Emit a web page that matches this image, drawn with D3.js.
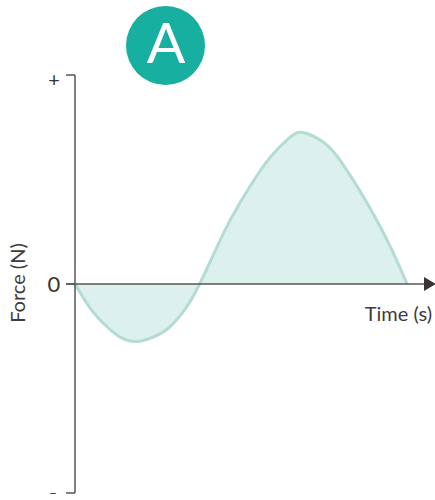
<!DOCTYPE html>
<html><head><meta charset="utf-8">
<script src="https://cdn.jsdelivr.net/npm/d3@7"></script>
<style>body{margin:0;background:#fff}svg{display:block}text{font-family:Lato,"Open Sans",sans-serif;font-weight:400}</style>
</head><body>
<script>
const timeValues  = [0, 0.43, 0.86, 1.29, 1.77, 2.23, 2.66, 3.11, 3.56, 4.23, 4.71, 5.20, 5.66, 6.14, 6.51, 7.09, 7.57, 8.09, 8.57, 9.03, 9.49];
const forceValues = [0, -0.115, -0.196, -0.254, -0.275, -0.254, -0.213, -0.129, 0, 0.239, 0.388, 0.519, 0.622, 0.701, 0.725, 0.679, 0.593, 0.459, 0.321, 0.172, 0];
const yTickLabels = ["–", "0", "+"];
const yTickValues = [-1, 0, 1];
const panelLabel = "A";
const xTitle = "Time (s)";
const yTitle = "Force (N)";

const W = 435, H = 500;
const svg = d3.select("body").append("svg").attr("width", W).attr("height", H);
const x = d3.scaleLinear().domain([0, 10]).range([75, 425]);
const y = d3.scaleLinear().domain([-1, 1]).range([493, 75]);
const data = timeValues.map((t, i) => ({t, f: forceValues[i]}));

svg.append("path").datum(data)
  .attr("d", d3.area().x(d => x(d.t)).y0(y(0)).y1(d => y(d.f)).curve(d3.curveNatural))
  .attr("fill", "#dcf0ee");
svg.append("path").datum(data)
  .attr("d", d3.line().x(d => x(d.t)).y(d => y(d.f)).curve(d3.curveNatural))
  .attr("fill", "none").attr("stroke", "#b4dcd4").attr("stroke-width", 3);

const axisColor = "#5a5456";
svg.append("line").attr("x1", x(0)).attr("x2", x(0)).attr("y1", y(1)).attr("y2", y(-1))
  .attr("stroke", axisColor).attr("stroke-width", 1.5);
yTickValues.forEach(v => {
  svg.append("line").attr("x1", x(0) - 9).attr("x2", x(0)).attr("y1", y(v)).attr("y2", y(v))
    .attr("stroke", axisColor).attr("stroke-width", 1.5);
});
svg.append("line").attr("x1", x(0) - 9).attr("x2", 428).attr("y1", y(0)).attr("y2", y(0))
  .attr("stroke", axisColor).attr("stroke-width", 1.5);
svg.append("path").attr("d", `M424,${y(0)-7}L436,${y(0)}L424,${y(0)+7}Z`).attr("fill", "#3a3335");

svg.append("text").attr("x", 54).attr("y", y(1) + 3.5).attr("text-anchor", "middle")
  .attr("dominant-baseline", "central")
  .attr("font-size", 20).attr("font-weight", 700).attr("fill", "#3a3335").text(yTickLabels[2]);
svg.append("text").attr("x", 54).attr("y", y(0) + 8).attr("text-anchor", "middle")
  .attr("font-size", 22).attr("fill", "#3a3335").text(yTickLabels[1]);
svg.append("text").attr("x", 53).attr("y", y(-1) - 1).attr("text-anchor", "middle")
  .attr("dominant-baseline", "central")
  .attr("font-size", 14).attr("font-weight", 700).attr("fill", "#3a3335").text(yTickLabels[0]);

svg.append("text").attr("x", 432).attr("y", 321).attr("text-anchor", "end")
  .attr("font-size", 20).attr("fill", "#3f3a3c").text(xTitle);
svg.append("text").attr("transform", "translate(25,283) rotate(-90)").attr("text-anchor", "middle")
  .attr("font-size", 20).attr("fill", "#3f3a3c").text(yTitle);

svg.append("circle").attr("cx", 165.5).attr("cy", 45.5).attr("r", 39.5).attr("fill", "#17b0a0");
svg.append("text").attr("x", 166).attr("y", 63).attr("text-anchor", "middle")
  .attr("font-size", 57).attr("fill", "#fff").text(panelLabel);
</script>
</body></html>
